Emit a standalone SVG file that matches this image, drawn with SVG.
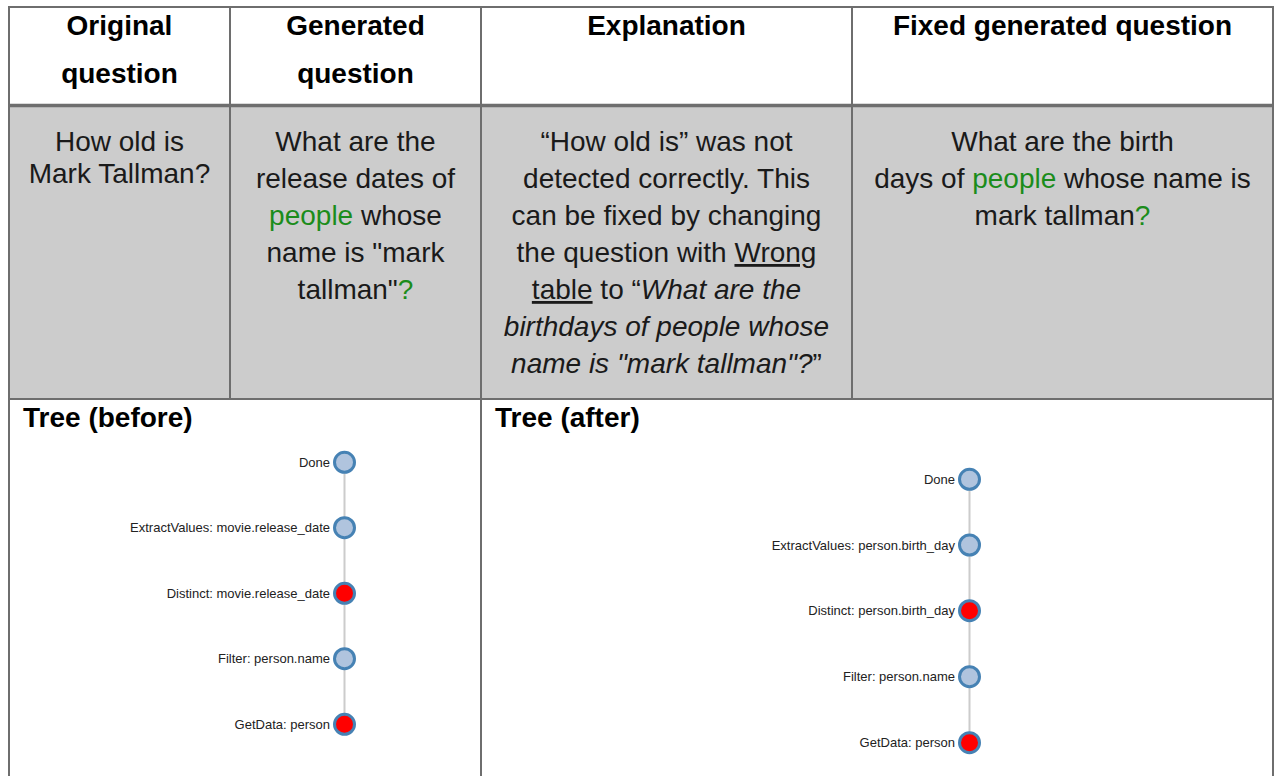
<svg xmlns="http://www.w3.org/2000/svg" width="1277" height="776" viewBox="0 0 1277 776">
<style>
.hd{font-family:"Liberation Sans",Arial,sans-serif;font-size:28px;font-weight:bold;fill:#000;text-anchor:middle}
.bd{font-family:"Liberation Sans",Arial,sans-serif;font-size:28px;fill:#1a1a1a;text-anchor:middle}
.g{fill:#1b8c1b}
.it{font-style:italic}
.ul{text-decoration:underline}
.tt{font-family:"Liberation Sans",Arial,sans-serif;font-size:28px;font-weight:bold;fill:#000}
.lbl{font-family:"Liberation Sans",Arial,sans-serif;font-size:13px;fill:#222;text-anchor:end}
.nb{fill:#b0c4de;stroke:#4682b4;stroke-width:3}
.nr{fill:#ff0000;stroke:#4682b4;stroke-width:3}
.lk{stroke:#cccccc;stroke-width:2;fill:none}
.bl{stroke:#6e6e6e;fill:none}
</style>
<rect width="1277" height="776" fill="#ffffff"/>
<g id="table">
<rect x="10" y="107" width="1263" height="291" fill="#cccccc"/>
<line class="bl" x1="9" y1="7" x2="1273" y2="7" stroke-width="2"/>
<line class="bl" x1="9" y1="6" x2="9" y2="776" stroke-width="2"/>
<line class="bl" x1="1273" y1="6" x2="1273" y2="776" stroke-width="2"/>
<line class="bl" x1="9" y1="105.5" x2="1273" y2="105.5" stroke-width="3.5"/>
<line class="bl" x1="9" y1="399" x2="1273" y2="399" stroke-width="2"/>
<line class="bl" x1="230" y1="7" x2="230" y2="399" stroke-width="2"/>
<line class="bl" x1="481" y1="7" x2="481" y2="776" stroke-width="2"/>
<line class="bl" x1="852" y1="7" x2="852" y2="399" stroke-width="2"/>
</g>
<g id="header">
<text class="hd" x="119.5" y="35">Original</text>
<text class="hd" x="119.5" y="83">question</text>
<text class="hd" x="355.5" y="35">Generated</text>
<text class="hd" x="355.5" y="83">question</text>
<text class="hd" x="666.5" y="35">Explanation</text>
<text class="hd" x="1062.5" y="35">Fixed generated question</text>
</g>
<g id="cell-original">
<text class="bd" x="119.5" y="151">How old is</text>
<text class="bd" x="119.5" y="183">Mark Tallman?</text>
</g>
<g id="cell-generated">
<text class="bd" x="355.5" y="151">What are the</text>
<text class="bd" x="355.5" y="188">release dates of</text>
<text class="bd" x="355.5" y="225"><tspan class="g">people</tspan> whose</text>
<text class="bd" x="355.5" y="262">name is "mark</text>
<text class="bd" x="355.5" y="299">tallman"<tspan class="g">?</tspan></text>
</g>
<g id="cell-explanation">
<text class="bd" x="666.5" y="151">“How old is” was not</text>
<text class="bd" x="666.5" y="188">detected correctly. This</text>
<text class="bd" x="666.5" y="225">can be fixed by changing</text>
<text class="bd" x="666.5" y="262">the question with <tspan class="ul">Wrong</tspan></text>
<text class="bd" x="666.5" y="299"><tspan class="ul">table</tspan> to “<tspan class="it">What are the</tspan></text>
<text class="bd it" x="666.5" y="336">birthdays of people whose</text>
<text class="bd" x="666.5" y="373"><tspan class="it">name is "mark tallman"?</tspan>”</text>
</g>
<g id="cell-fixed">
<text class="bd" x="1062.5" y="151">What are the birth</text>
<text class="bd" x="1062.5" y="188">days of <tspan class="g">people</tspan> whose name is</text>
<text class="bd" x="1062.5" y="225">mark tallman<tspan class="g">?</tspan></text>
</g>
<text class="tt" x="23" y="427">Tree (before)</text>
<text class="tt" x="495" y="427">Tree (after)</text>
<g id="connectors">
<line class="lk" x1="344.5" y1="462.3" x2="344.5" y2="724.3"/>
<line class="lk" x1="969.5" y1="479.3" x2="969.5" y2="742.7"/>
</g>
<g id="before-done"><circle class="nb" cx="344.5" cy="462.3" r="10"/><text class="lbl" x="330" y="466.8">Done</text></g>
<g id="before-extract"><circle class="nb" cx="344.5" cy="527.7" r="10"/><text class="lbl" x="330" y="532.2">ExtractValues: movie.release_date</text></g>
<g id="before-distinct"><circle class="nr" cx="344.5" cy="593.3" r="10"/><text class="lbl" x="330" y="597.8">Distinct: movie.release_date</text></g>
<g id="before-filter"><circle class="nb" cx="344.5" cy="658.7" r="10"/><text class="lbl" x="330" y="663.2">Filter: person.name</text></g>
<g id="before-getdata"><circle class="nr" cx="344.5" cy="724.3" r="10"/><text class="lbl" x="330" y="728.8">GetData: person</text></g>
<g id="after-done"><circle class="nb" cx="969.5" cy="479.3" r="10"/><text class="lbl" x="955" y="483.8">Done</text></g>
<g id="after-extract"><circle class="nb" cx="969.5" cy="545" r="10"/><text class="lbl" x="955" y="549.5">ExtractValues: person.birth_day</text></g>
<g id="after-distinct"><circle class="nr" cx="969.5" cy="610.7" r="10"/><text class="lbl" x="955" y="615.2">Distinct: person.birth_day</text></g>
<g id="after-filter"><circle class="nb" cx="969.5" cy="676.7" r="10"/><text class="lbl" x="955" y="681.2">Filter: person.name</text></g>
<g id="after-getdata"><circle class="nr" cx="969.5" cy="742.7" r="10"/><text class="lbl" x="955" y="747.2">GetData: person</text></g>
</svg>
